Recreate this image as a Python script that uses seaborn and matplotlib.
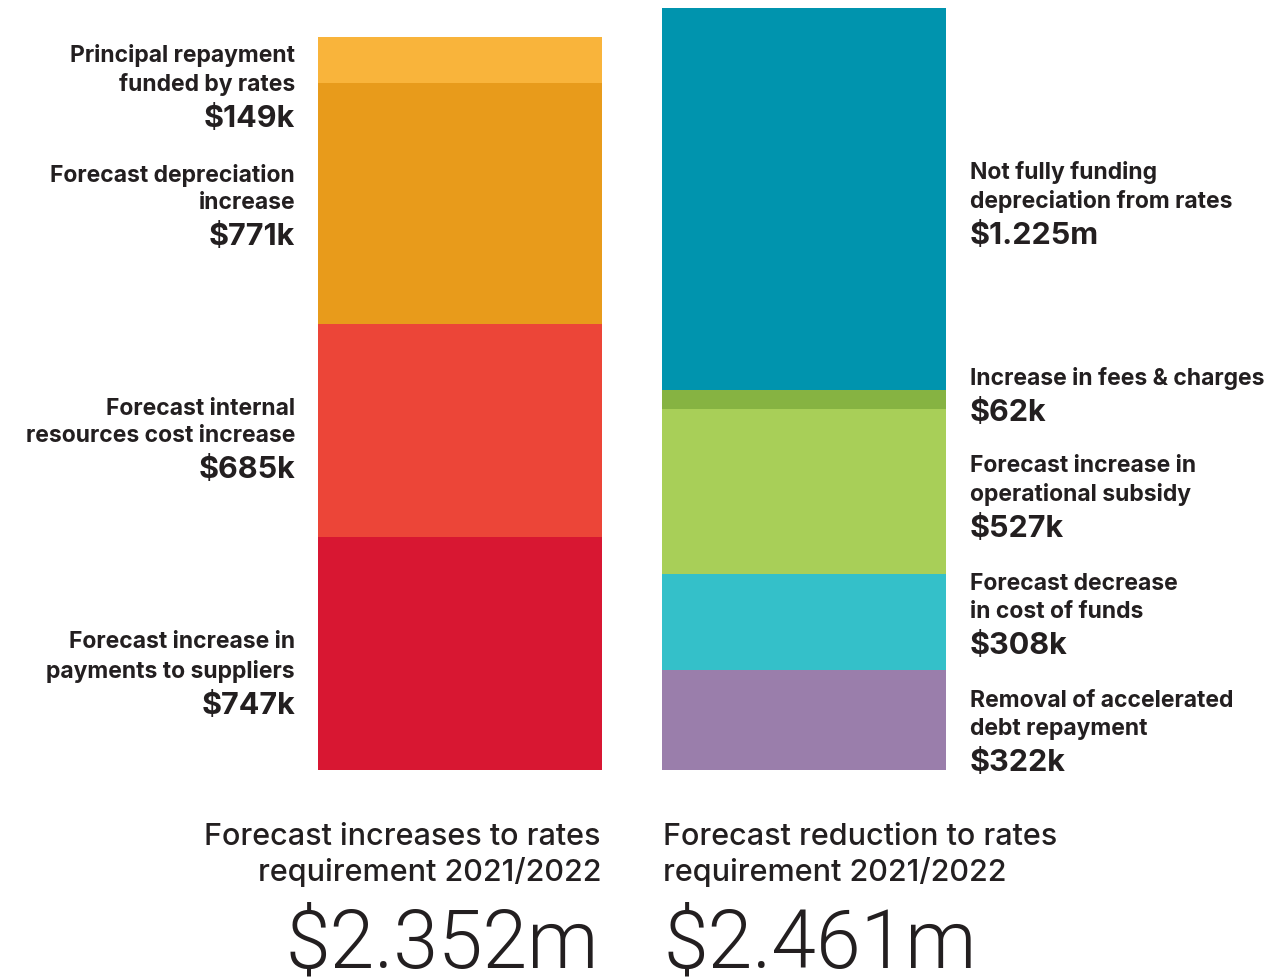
import matplotlib
matplotlib.use("Agg")
import matplotlib.pyplot as plt
import seaborn as sns

# left bar: forecast increases (bottom -> top), in $k
inc_labels = ["Forecast increase in\npayments to suppliers",
              "Forecast internal\nresources cost increase",
              "Forecast depreciation\nincrease",
              "Principal repayment\nfunded by rates"]
inc_values = [747, 685, 771, 149]
inc_text = ["$747k", "$685k", "$771k", "$149k"]
inc_colors = ["#D81732", "#EC4538", "#E89B1B", "#F9B43B"]

# right bar: forecast reductions (bottom -> top), in $k
red_labels = ["Removal of accelerated\ndebt repayment",
              "Forecast decrease\nin cost of funds",
              "Forecast increase in\noperational subsidy",
              "Increase in fees & charges",
              "Not fully funding\ndepreciation from rates"]
red_values = [322, 308, 527, 62, 1225]
red_text = ["$322k", "$308k", "$527k", "$62k", "$1.225m"]
red_colors = ["#9A7EAB", "#34C0C9", "#A8CF58", "#86B342", "#0094AE"]

bars = ["increases", "reductions"]
titles = ["Forecast increases to rates\nrequirement 2021/2022",
          "Forecast reduction to rates\nrequirement 2021/2022"]
totals = ["$2.352m", "$2.461m"]

# small vertical nudges of the label blocks (pixels, down is positive)
inc_nudge = [18, 6, 0, 0]
red_nudge = [9, -10, 4, -6, 3]

sns.set_theme(style="white")
plt.rcParams["font.family"] = ["Inter", "DejaVu Sans"]
TXT = "#231F20"

W, H = 1278, 979
fig = plt.figure(figsize=(W / 100, H / 100), dpi=100)
ax_bottom, ax_top = 208, 970
ax = fig.add_axes([0, ax_bottom / H, 1, (ax_top - ax_bottom) / H])

bar_w = 284 / 344
for vals, cols, name in [(inc_values, inc_colors, bars[0]), (red_values, red_colors, bars[1])]:
    base = 0
    for v, c in zip(vals, cols):
        sns.barplot(x=[name], y=[v], order=bars, bottom=base, color=c,
                    width=bar_w, errorbar=None, saturation=1, linewidth=0, ax=ax)
        base += v

ymax = sum(red_values)
ax.set_ylim(0, ymax)
ax.set_xlim(-460 / 344, (W - 460) / 344)
ax.axis("off")
ppk = (ax_top - ax_bottom) / ymax  # pixels per $k


def put_label(xpos, side, y0, v, name, val, nudge, clamp=False):
    n = name.count("\n") + 1
    c = y0 + v / 2 - nudge / ppk
    if clamp:
        c = min(c, (y0 + v) - 48 / ppk)
    shift = (2 - n) * 15
    if side == "left":
        dx, ha = -23, "right"
    else:
        dx, ha = 24, "left"
    ax.annotate(name, xy=(xpos, c), xytext=(dx, -10 + shift), textcoords="offset pixels",
                ha=ha, va="bottom", fontsize=16.5, fontweight="bold", color=TXT,
                linespacing=1.34, annotation_clip=False)
    ax.annotate(val, xy=(xpos, c), xytext=(dx, -19 + shift), textcoords="offset pixels",
                ha=ha, va="top", fontsize=22, fontweight="bold", color=TXT,
                annotation_clip=False)


base = 0
for i, (v, nm, t) in enumerate(zip(inc_values, inc_labels, inc_text)):
    put_label(-bar_w / 2, "left", base, v, nm, t, inc_nudge[i], clamp=(i == len(inc_values) - 1))
    base += v
base = 0
for i, (v, nm, t) in enumerate(zip(red_values, red_labels, red_text)):
    put_label(1 + bar_w / 2, "right", base, v, nm, t, red_nudge[i])
    base += v

# titles and totals under the bars
for i, (ttl, tot) in enumerate(zip(titles, totals)):
    if i == 0:
        xpos, ha, dx, dx2 = bar_w / 2, "right", -1, -3
    else:
        xpos, ha, dx, dx2 = 1 - bar_w / 2, "left", 1, 2
    ax.annotate(ttl, xy=(xpos, 0), xytext=(dx, -52), textcoords="offset pixels",
                ha=ha, va="top", fontsize=22, fontweight="medium", color=TXT,
                linespacing=1.27, annotation_clip=False)
    ax.annotate(tot, xy=(xpos, 0), xytext=(dx2, -197), textcoords="offset pixels",
                ha=ha, va="baseline", fontsize=58, fontweight=300,
                family=["Roboto", "DejaVu Sans"], color=TXT, annotation_clip=False)

fig.savefig("out.png", dpi=100, facecolor="white")
